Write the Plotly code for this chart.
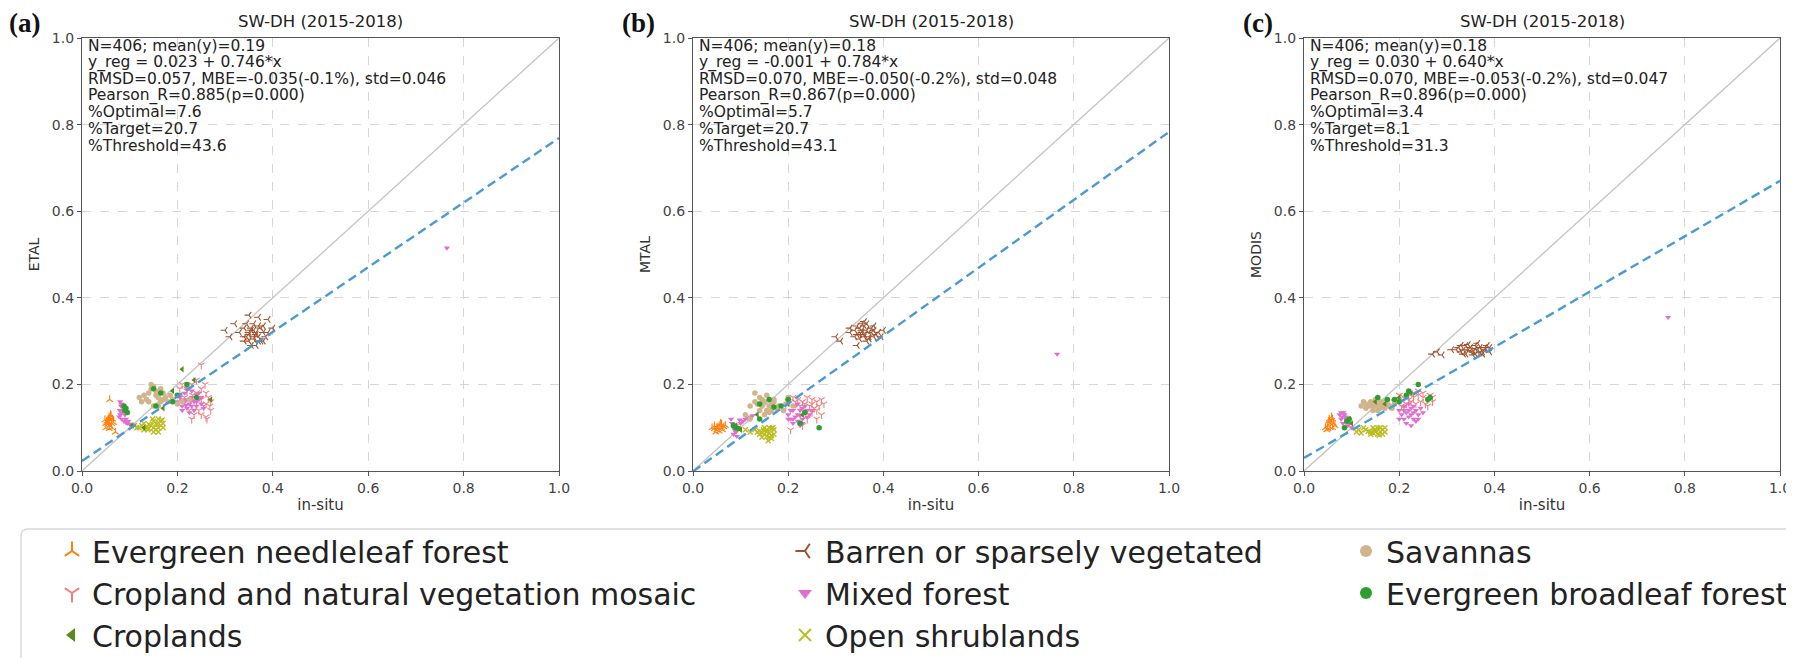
import plotly.graph_objects as go

# ---------------- data ----------------
panel_titles = ["SW-DH (2015-2018)", "SW-DH (2015-2018)", "SW-DH (2015-2018)"]
panel_labels = ["(a)", "(b)", "(c)"]
y_titles = ["ETAL", "MTAL", "MODIS"]
x_title = "in-situ"
tick_vals = [0.0, 0.2, 0.4, 0.6, 0.8, 1.0]
tick_text = ["0.0", "0.2", "0.4", "0.6", "0.8", "1.0"]

reg_intercepts = [0.023, -0.001, 0.030]
reg_slopes = [0.746, 0.784, 0.640]

stats_a = ["N=406; mean(y)=0.19", "y_reg = 0.023 + 0.746*x",
           "RMSD=0.057, MBE=-0.035(-0.1%), std=0.046", "Pearson_R=0.885(p=0.000)",
           "%Optimal=7.6", "%Target=20.7", "%Threshold=43.6"]
stats_b = ["N=406; mean(y)=0.18", "y_reg = -0.001 + 0.784*x",
           "RMSD=0.070, MBE=-0.050(-0.2%), std=0.048", "Pearson_R=0.867(p=0.000)",
           "%Optimal=5.7", "%Target=20.7", "%Threshold=43.1"]
stats_c = ["N=406; mean(y)=0.18", "y_reg = 0.030 + 0.640*x",
           "RMSD=0.070, MBE=-0.053(-0.2%), std=0.047", "Pearson_R=0.896(p=0.000)",
           "%Optimal=3.4", "%Target=8.1", "%Threshold=31.3"]

# ---- panel (a) ETAL ----
a_enf_x = [0.05, 0.052, 0.055, 0.057, 0.06, 0.062, 0.058, 0.054, 0.06, 0.064, 0.056, 0.05, 0.048, 0.062, 0.066, 0.059, 0.053, 0.061, 0.057, 0.07, 0.058]
a_enf_y = [0.11, 0.115, 0.12, 0.125, 0.118, 0.11, 0.105, 0.108, 0.13, 0.12, 0.113, 0.1, 0.118, 0.1, 0.112, 0.122, 0.112, 0.127, 0.098, 0.09, 0.165]
a_mix_x = [0.08, 0.082, 0.085, 0.08, 0.078, 0.083, 0.088, 0.092, 0.095, 0.1, 0.09, 0.086, 0.084, 0.079, 0.092, 0.097, 0.082,
           0.2, 0.205, 0.21, 0.215, 0.22, 0.225, 0.23, 0.235, 0.24, 0.245, 0.25, 0.21, 0.22, 0.23, 0.24, 0.215, 0.225, 0.235, 0.2, 0.245, 0.23, 0.22, 0.21, 0.24, 0.25, 0.255, 0.228, 0.218,
           0.765]
a_mix_y = [0.16, 0.15, 0.14, 0.13, 0.125, 0.12, 0.115, 0.112, 0.11, 0.108, 0.13, 0.145, 0.135, 0.14, 0.12, 0.115, 0.155,
           0.16, 0.17, 0.15, 0.18, 0.165, 0.155, 0.17, 0.16, 0.15, 0.165, 0.155, 0.14, 0.145, 0.185, 0.175, 0.16, 0.135, 0.14, 0.175, 0.18, 0.15, 0.19, 0.165, 0.16, 0.17, 0.145, 0.162, 0.152,
           0.515]
a_mos_x = [0.21, 0.22, 0.23, 0.24, 0.25, 0.26, 0.265, 0.27, 0.255, 0.245, 0.235, 0.225, 0.215, 0.24, 0.25, 0.26, 0.27, 0.23, 0.22, 0.26, 0.25, 0.262, 0.268, 0.24, 0.232, 0.205, 0.25, 0.258]
a_mos_y = [0.2, 0.19, 0.2, 0.21, 0.19, 0.18, 0.17, 0.16, 0.15, 0.14, 0.13, 0.14, 0.17, 0.18, 0.165, 0.155, 0.14, 0.12, 0.185, 0.125, 0.13, 0.12, 0.15, 0.16, 0.175, 0.19, 0.245, 0.2]
a_crop_x = [0.21, 0.235, 0.19, 0.17, 0.27, 0.13, 0.105]
a_crop_y = [0.235, 0.21, 0.185, 0.145, 0.165, 0.1, 0.105]
a_ebf_x = [0.088, 0.09, 0.092, 0.155, 0.19, 0.165, 0.2, 0.22, 0.24, 0.15, 0.095]
a_ebf_y = [0.15, 0.14, 0.145, 0.15, 0.16, 0.18, 0.175, 0.2, 0.17, 0.19, 0.135]
a_shr_x = [0.12, 0.125, 0.13, 0.135, 0.14, 0.145, 0.15, 0.155, 0.16, 0.165, 0.17, 0.15, 0.155, 0.16, 0.165, 0.17, 0.16, 0.15, 0.14, 0.13, 0.11, 0.115, 0.158, 0.168, 0.148, 0.138]
a_shr_y = [0.1, 0.105, 0.095, 0.1, 0.098, 0.105, 0.1, 0.11, 0.12, 0.105, 0.1, 0.115, 0.095, 0.1, 0.115, 0.11, 0.09, 0.09, 0.108, 0.11, 0.105, 0.1, 0.108, 0.118, 0.12, 0.095]
a_sav_x = [0.12, 0.13, 0.14, 0.145, 0.15, 0.155, 0.16, 0.165, 0.17, 0.175, 0.18, 0.19, 0.2, 0.14, 0.15, 0.16, 0.155, 0.145, 0.135, 0.17, 0.21, 0.225, 0.125, 0.165, 0.185]
a_sav_y = [0.17, 0.175, 0.18, 0.19, 0.195, 0.185, 0.17, 0.16, 0.165, 0.17, 0.16, 0.165, 0.155, 0.16, 0.15, 0.15, 0.175, 0.2, 0.165, 0.18, 0.16, 0.165, 0.16, 0.19, 0.175]
a_bar_x = [0.33, 0.34, 0.345, 0.35, 0.355, 0.36, 0.365, 0.37, 0.375, 0.38, 0.385, 0.34, 0.35, 0.36, 0.37, 0.38, 0.355, 0.365, 0.375, 0.345, 0.36, 0.37, 0.35, 0.38, 0.36, 0.34, 0.39, 0.3, 0.31, 0.32, 0.37, 0.35, 0.39, 0.4, 0.365, 0.355]
a_bar_y = [0.32, 0.33, 0.31, 0.32, 0.33, 0.34, 0.32, 0.31, 0.33, 0.32, 0.31, 0.3, 0.3, 0.31, 0.3, 0.3, 0.29, 0.29, 0.3, 0.34, 0.325, 0.335, 0.315, 0.335, 0.305, 0.31, 0.32, 0.325, 0.31, 0.34, 0.355, 0.36, 0.35, 0.33, 0.315, 0.325]

# ---- panel (b) MTAL ----
b_enf_x = [0.04, 0.045, 0.05, 0.055, 0.06, 0.065, 0.05, 0.055, 0.06, 0.045, 0.058, 0.052, 0.062, 0.048, 0.068]
b_enf_y = [0.1, 0.098, 0.1, 0.105, 0.1, 0.102, 0.095, 0.092, 0.108, 0.104, 0.11, 0.1, 0.095, 0.09, 0.105]
b_mix_x = [0.08, 0.082, 0.085, 0.088, 0.09, 0.095, 0.1, 0.105, 0.11, 0.085, 0.092, 0.09, 0.098, 0.115, 0.12, 0.125,
           0.2, 0.205, 0.21, 0.215, 0.22, 0.225, 0.23, 0.235, 0.24, 0.21, 0.22, 0.23, 0.24, 0.215, 0.225, 0.205, 0.235, 0.245, 0.22, 0.23, 0.21, 0.25, 0.2, 0.225,
           0.765]
b_mix_y = [0.12, 0.11, 0.1, 0.095, 0.09, 0.1, 0.11, 0.115, 0.12, 0.085, 0.08, 0.105, 0.118, 0.122, 0.125, 0.128,
           0.13, 0.14, 0.12, 0.15, 0.13, 0.14, 0.12, 0.135, 0.125, 0.11, 0.115, 0.145, 0.14, 0.125, 0.105, 0.12, 0.15, 0.13, 0.155, 0.11, 0.14, 0.14, 0.12, 0.128,
           0.27]
b_mos_x = [0.2, 0.21, 0.22, 0.23, 0.24, 0.25, 0.26, 0.27, 0.275, 0.265, 0.255, 0.245, 0.235, 0.225, 0.215, 0.25, 0.26, 0.27, 0.24, 0.23, 0.195, 0.205, 0.26, 0.25]
b_mos_y = [0.16, 0.17, 0.165, 0.16, 0.17, 0.165, 0.16, 0.165, 0.155, 0.15, 0.145, 0.15, 0.155, 0.15, 0.16, 0.135, 0.14, 0.13, 0.12, 0.105, 0.15, 0.095, 0.12, 0.155]
b_crop_x = [0.09, 0.1, 0.135, 0.2, 0.23]
b_crop_y = [0.105, 0.095, 0.13, 0.155, 0.13]
b_ebf_x = [0.085, 0.09, 0.095, 0.14, 0.16, 0.185, 0.2, 0.235, 0.225, 0.265, 0.17, 0.14]
b_ebf_y = [0.105, 0.1, 0.098, 0.155, 0.165, 0.15, 0.165, 0.135, 0.11, 0.1, 0.148, 0.12]
b_shr_x = [0.13, 0.135, 0.14, 0.145, 0.15, 0.155, 0.16, 0.165, 0.17, 0.15, 0.155, 0.16, 0.165, 0.17, 0.155, 0.16, 0.165, 0.145, 0.12, 0.11, 0.168, 0.158, 0.148, 0.14]
b_shr_y = [0.095, 0.09, 0.092, 0.088, 0.1, 0.095, 0.1, 0.098, 0.095, 0.085, 0.08, 0.078, 0.082, 0.085, 0.09, 0.088, 0.075, 0.078, 0.09, 0.095, 0.1, 0.07, 0.095, 0.085]
b_sav_x = [0.11, 0.12, 0.13, 0.14, 0.145, 0.15, 0.155, 0.16, 0.165, 0.17, 0.175, 0.18, 0.19, 0.2, 0.13, 0.14, 0.15, 0.16, 0.17, 0.135, 0.155, 0.145, 0.165, 0.12, 0.195, 0.21]
b_sav_y = [0.13, 0.15, 0.16, 0.17, 0.15, 0.16, 0.14, 0.15, 0.155, 0.16, 0.145, 0.15, 0.14, 0.17, 0.18, 0.14, 0.13, 0.135, 0.165, 0.155, 0.175, 0.165, 0.14, 0.12, 0.155, 0.15]
b_bar_x = [0.33, 0.34, 0.345, 0.35, 0.355, 0.36, 0.365, 0.37, 0.375, 0.38, 0.385, 0.39, 0.34, 0.35, 0.36, 0.37, 0.38, 0.355, 0.365, 0.375, 0.345, 0.36, 0.37, 0.35, 0.38, 0.36, 0.395, 0.3, 0.31, 0.345, 0.4, 0.33, 0.365, 0.355]
b_bar_y = [0.32, 0.325, 0.315, 0.33, 0.32, 0.335, 0.325, 0.32, 0.33, 0.325, 0.315, 0.32, 0.31, 0.305, 0.31, 0.305, 0.31, 0.34, 0.34, 0.32, 0.335, 0.315, 0.31, 0.315, 0.335, 0.345, 0.31, 0.31, 0.3, 0.29, 0.325, 0.33, 0.3, 0.325]

# ---- panel (c) MODIS ----
c_enf_x = [0.045, 0.05, 0.055, 0.06, 0.052, 0.058, 0.062, 0.048, 0.055, 0.06, 0.065, 0.05, 0.057, 0.053]
c_enf_y = [0.1, 0.105, 0.11, 0.12, 0.115, 0.125, 0.11, 0.095, 0.1, 0.1, 0.105, 0.098, 0.115, 0.12]
c_mix_x = [0.075, 0.078, 0.08, 0.082, 0.085, 0.088, 0.09, 0.095, 0.1, 0.083, 0.092, 0.087, 0.078,
           0.2, 0.205, 0.21, 0.215, 0.22, 0.225, 0.23, 0.235, 0.24, 0.245, 0.21, 0.22, 0.23, 0.24, 0.215, 0.225, 0.235, 0.2, 0.22, 0.23, 0.21, 0.25, 0.225,
           0.765]
c_mix_y = [0.13, 0.12, 0.125, 0.11, 0.13, 0.12, 0.115, 0.11, 0.1, 0.135, 0.105, 0.125, 0.135,
           0.14, 0.13, 0.12, 0.135, 0.14, 0.13, 0.12, 0.14, 0.13, 0.145, 0.15, 0.125, 0.15, 0.12, 0.11, 0.145, 0.115, 0.12, 0.155, 0.135, 0.14, 0.135, 0.105,
           0.355]
c_mos_x = [0.19, 0.2, 0.21, 0.22, 0.23, 0.24, 0.25, 0.26, 0.27, 0.265, 0.255, 0.245, 0.235, 0.225, 0.215, 0.205, 0.25, 0.24, 0.26, 0.23, 0.22, 0.27, 0.21, 0.2]
c_mos_y = [0.16, 0.165, 0.17, 0.165, 0.17, 0.175, 0.17, 0.165, 0.16, 0.175, 0.155, 0.16, 0.155, 0.16, 0.155, 0.15, 0.18, 0.185, 0.15, 0.18, 0.175, 0.17, 0.145, 0.175]
c_crop_x = [0.095, 0.1, 0.15, 0.17, 0.225, 0.2]
c_crop_y = [0.12, 0.11, 0.16, 0.155, 0.18, 0.17]
c_ebf_x = [0.085, 0.09, 0.095, 0.155, 0.175, 0.19, 0.215, 0.22, 0.24, 0.265, 0.26, 0.2]
c_ebf_y = [0.1, 0.115, 0.12, 0.17, 0.165, 0.165, 0.175, 0.185, 0.2, 0.17, 0.165, 0.16]
c_shr_x = [0.11, 0.115, 0.12, 0.125, 0.13, 0.14, 0.145, 0.15, 0.155, 0.16, 0.165, 0.17, 0.14, 0.15, 0.16, 0.165, 0.155, 0.145, 0.135, 0.17, 0.158, 0.148]
c_shr_y = [0.09, 0.095, 0.088, 0.1, 0.095, 0.09, 0.1, 0.095, 0.085, 0.09, 0.095, 0.09, 0.085, 0.09, 0.1, 0.085, 0.1, 0.088, 0.092, 0.1, 0.083, 0.095]
c_sav_x = [0.12, 0.125, 0.13, 0.135, 0.14, 0.145, 0.15, 0.155, 0.16, 0.165, 0.17, 0.175, 0.18, 0.185, 0.19, 0.2, 0.14, 0.15, 0.16, 0.17, 0.13, 0.155, 0.145]
c_sav_y = [0.15, 0.16, 0.145, 0.15, 0.16, 0.14, 0.15, 0.155, 0.145, 0.15, 0.16, 0.155, 0.15, 0.145, 0.155, 0.165, 0.15, 0.165, 0.16, 0.145, 0.155, 0.14, 0.155]
c_bar_x = [0.32, 0.325, 0.33, 0.335, 0.34, 0.345, 0.35, 0.355, 0.36, 0.365, 0.37, 0.375, 0.38, 0.385, 0.39, 0.33, 0.34, 0.35, 0.36, 0.37, 0.38, 0.345, 0.355, 0.365, 0.375, 0.335, 0.27, 0.28, 0.29, 0.31, 0.39, 0.36]
c_bar_y = [0.28, 0.285, 0.275, 0.28, 0.29, 0.28, 0.285, 0.275, 0.29, 0.28, 0.285, 0.275, 0.28, 0.29, 0.285, 0.29, 0.27, 0.278, 0.283, 0.273, 0.285, 0.292, 0.268, 0.295, 0.27, 0.27, 0.27, 0.275, 0.268, 0.28, 0.275, 0.27]

class_names = {
    "enf": "Evergreen needleleaf forest",
    "mos": "Cropland and natural vegetation mosaic",
    "crop": "Croplands",
    "bar": "Barren or sparsely vegetated",
    "mix": "Mixed forest",
    "shr": "Open shrublands",
    "sav": "Savannas",
    "ebf": "Evergreen broadleaf forest",
}

# ---------------- styles ----------------
class_style = {
    "enf": dict(color="#ff7f0e", symbol="y-up", size=5.5, lw=1.1, legend="legend", rank=1),
    "mos": dict(color="#f08080", symbol="y-down", size=5.5, lw=1.1, legend="legend", rank=2),
    "crop": dict(color="#5b8a1e", symbol="triangle-left", size=5.5, lw=0, legend="legend", rank=3),
    "bar": dict(color="#a0522d", symbol="y-left", size=5.5, lw=1.1, legend="legend2", rank=1),
    "mix": dict(color="#e070cf", symbol="triangle-down", size=5.5, lw=0, legend="legend2", rank=2),
    "shr": dict(color="#bcbd22", symbol="x-thin", size=5, lw=1.4, legend="legend2", rank=3),
    "sav": dict(color="#d2b48c", symbol="circle", size=5.5, lw=0, legend="legend3", rank=1),
    "ebf": dict(color="#2ca02c", symbol="circle", size=5.5, lw=0, legend="legend3", rank=2),
}
draw_order = ["bar", "mos", "mix", "sav", "shr", "enf", "crop", "ebf"]

panel_data = [
    {"enf": (a_enf_x, a_enf_y), "mos": (a_mos_x, a_mos_y), "crop": (a_crop_x, a_crop_y), "bar": (a_bar_x, a_bar_y),
     "mix": (a_mix_x, a_mix_y), "shr": (a_shr_x, a_shr_y), "sav": (a_sav_x, a_sav_y), "ebf": (a_ebf_x, a_ebf_y)},
    {"enf": (b_enf_x, b_enf_y), "mos": (b_mos_x, b_mos_y), "crop": (b_crop_x, b_crop_y), "bar": (b_bar_x, b_bar_y),
     "mix": (b_mix_x, b_mix_y), "shr": (b_shr_x, b_shr_y), "sav": (b_sav_x, b_sav_y), "ebf": (b_ebf_x, b_ebf_y)},
    {"enf": (c_enf_x, c_enf_y), "mos": (c_mos_x, c_mos_y), "crop": (c_crop_x, c_crop_y), "bar": (c_bar_x, c_bar_y),
     "mix": (c_mix_x, c_mix_y), "shr": (c_shr_x, c_shr_y), "sav": (c_sav_x, c_sav_y), "ebf": (c_ebf_x, c_ebf_y)},
]
panel_stats = [stats_a, stats_b, stats_c]

# page is rendered with an 8px body margin: figure is sized to fill the rest
OFF = 8
W, H = 1794 - OFF, 658 - OFF


def px(X):
    return (X - OFF) / W


def py(Y):
    return 1 - (Y - OFF) / H


x_domains = [(px(82), px(559)), (px(693), px(1169)), (px(1304), px(1780))]
y_domain = (py(471), py(38))
PLOT_H = 471 - 38
FONT = "DejaVu Sans"

fig = go.Figure()
annotations = []

for i in range(3):
    xa = "x" if i == 0 else f"x{i+1}"
    ya = "y" if i == 0 else f"y{i+1}"
    fig.add_trace(go.Scatter(x=[0, 1], y=[0, 1], mode="lines", xaxis=xa, yaxis=ya,
                             line=dict(color="#c4c4c4", width=1.3), showlegend=False, hoverinfo="skip"))
    for key in draw_order:
        st = class_style[key]
        xs, ys = panel_data[i][key]
        mk = dict(symbol=st["symbol"], size=st["size"], color=st["color"],
                  line=dict(color=st["color"], width=st["lw"]))
        fig.add_trace(go.Scatter(x=xs, y=ys, mode="markers", xaxis=xa, yaxis=ya, marker=mk,
                                 name=class_names[key], legendgroup=key, legend=st["legend"],
                                 legendrank=st["rank"], showlegend=(i == 0)))
    rx = [0.0, 1.0]
    ry = [reg_intercepts[i] + reg_slopes[i] * v for v in rx]
    fig.add_trace(go.Scatter(x=rx, y=ry, mode="lines", xaxis=xa, yaxis=ya,
                             line=dict(color="#4a9ad6", width=2.4, dash="9px,5px"),
                             showlegend=False, hoverinfo="skip"))

    xref = f"{xa} domain"
    yref = f"{ya} domain"
    for k, line in enumerate(panel_stats[i]):
        ypix = 8 + 16.6 * k
        annotations.append(dict(text=line, xref=xref, yref=yref, x=0.008, y=1 - ypix / PLOT_H,
                                xanchor="left", yanchor="middle", showarrow=False,
                                font=dict(family=FONT, size=15.5, color="#222")))
    xc = (x_domains[i][0] + x_domains[i][1]) / 2
    annotations.append(dict(text=panel_titles[i], xref="paper", yref="paper", x=xc, y=py(21),
                            xanchor="center", yanchor="middle", showarrow=False,
                            font=dict(family=FONT, size=16.5, color="#222")))

label_x = [24, 638, 1258]
for i in range(3):
    annotations.append(dict(text=f"<b>{panel_labels[i]}</b>", xref="paper", yref="paper",
                            x=px(label_x[i]), y=py(23), xanchor="center", yanchor="middle",
                            showarrow=False, font=dict(family="Liberation Serif", size=27, color="#111")))

axis_common = dict(range=[0, 1], tickvals=tick_vals, ticktext=tick_text, showline=True, mirror=True,
                   linecolor="#555", linewidth=1.3, ticks="outside", ticklen=4, tickcolor="#555",
                   tickfont=dict(family=FONT, size=14, color="#444"), showgrid=True,
                   gridcolor="#d6d6d6", griddash="dash", gridwidth=1, zeroline=False,
                   fixedrange=True, automargin=False)

layout = dict(width=W, height=H, margin=dict(l=0, r=0, t=0, b=0, autoexpand=False),
              paper_bgcolor="white", plot_bgcolor="white", annotations=annotations)
for i in range(3):
    xk = "xaxis" if i == 0 else f"xaxis{i+1}"
    yk = "yaxis" if i == 0 else f"yaxis{i+1}"
    xa = "x" if i == 0 else f"x{i+1}"
    ya = "y" if i == 0 else f"y{i+1}"
    layout[xk] = dict(axis_common, domain=list(x_domains[i]), anchor=ya,
                      title=dict(text=x_title, standoff=4, font=dict(family=FONT, size=15, color="#333")))
    layout[yk] = dict(axis_common, domain=list(y_domain), anchor=xa,
                      title=dict(text=y_titles[i], standoff=8, font=dict(family=FONT, size=14, color="#333")))

leg_common = dict(bgcolor="rgba(0,0,0,0)", borderwidth=0, orientation="v", xanchor="left", yanchor="top",
                  itemsizing="constant", font=dict(family=FONT, size=30, color="#222"), tracegroupgap=0)
layout["legend"] = dict(leg_common, x=px(52), y=py(525))
layout["legend2"] = dict(leg_common, x=px(785), y=py(525))
layout["legend3"] = dict(leg_common, x=px(1346), y=py(525))

x0, y0 = px(21), py(529)
rx_, ry_ = 7 / W, 7 / H
frame = (f"M {1.01} {y0} L {x0 + rx_} {y0} Q {x0} {y0} {x0} {y0 - ry_} L {x0} {-0.05}")
layout["shapes"] = [dict(type="path", xref="paper", yref="paper", path=frame,
                         line=dict(color="#d9d9d9", width=1.5))]

fig.update_layout(**layout)
fig.write_html("out.html")
